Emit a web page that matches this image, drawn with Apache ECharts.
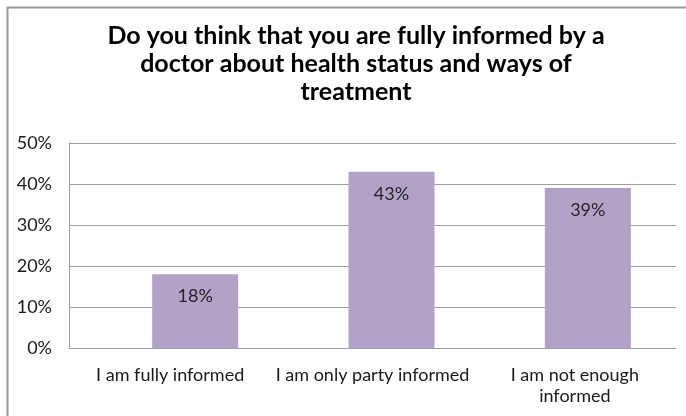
<!DOCTYPE html>
<html>
<head>
<meta charset="utf-8">
<script src="https://cdn.jsdelivr.net/npm/echarts@6/dist/echarts.min.js"></script>
<style>
html,body{margin:0;padding:0;background:#fff;}
#chart{width:686px;height:416px;}
</style>
</head>
<body>
<div id="chart"></div>
<script>
var titleLines = ['Do you think that you are fully informed by a', 'doctor about health status and ways of', 'treatment'];
var categories = ['I am fully informed', 'I am only party informed', 'I am not enough\ninformed'];
var values = [18, 43, 39];
var yTicks = [0, 10, 20, 30, 40, 50];

var FONT = 'Lato';
var chart = echarts.init(document.getElementById('chart'), null, {renderer: 'canvas'});
var option = {
  animation: false,
  backgroundColor: '#ffffff',
  graphic: [{
    type: 'rect', left: 5, top: 5, silent: true,
    shape: {x: 0, y: 0, width: 740, height: 440},
    style: {fill: 'none', stroke: '#9a9a9a', lineWidth: 2}
  }],
  title: {
    text: titleLines.join('\n'),
    left: 351, top: 17, textAlign: 'center',
    textStyle: {fontFamily: FONT, fontWeight: 'bold', fontSize: 25, lineHeight: 28, color: '#000'}
  },
  grid: [
    {left: 69, right: 10, top: 143, bottom: 68, containLabel: false},
    {left: 97, right: -15, top: 143, bottom: 68, containLabel: false}
  ],
  xAxis: [
    {
      type: 'category', gridIndex: 0, data: categories,
      axisLine: {show: true, lineStyle: {color: '#a0a0a0', width: 1}},
      axisTick: {show: false},
      axisLabel: {fontFamily: FONT, fontSize: 18, color: '#1a1a1a', margin: 17, lineHeight: 21, interval: 0}
    },
    {
      type: 'category', gridIndex: 1, data: categories,
      show: false
    }
  ],
  yAxis: [
    {
      type: 'value', gridIndex: 0, min: yTicks[0], max: yTicks[yTicks.length - 1], interval: 10,
      axisLine: {show: true, lineStyle: {color: '#a0a0a0', width: 1}},
      axisTick: {show: false},
      splitLine: {show: true, lineStyle: {color: '#a0a0a0', width: 1}},
      axisLabel: {fontFamily: FONT, fontSize: 18, color: '#1a1a1a', margin: 17, formatter: '{value}%'}
    },
    {
      type: 'value', gridIndex: 1, min: yTicks[0], max: yTicks[yTicks.length - 1], interval: 10,
      show: false, splitLine: {show: false}
    }
  ],
  series: [{
    type: 'bar', xAxisIndex: 1, yAxisIndex: 1,
    data: values, barWidth: 86,
    itemStyle: {color: '#b3a2c7'},
    label: {
      show: true, position: 'insideTop', distance: 13,
      formatter: '{c}%', fontFamily: FONT, fontSize: 18, color: '#262626'
    }
  }]
};
chart.setOption(option);
</script>
</body>
</html>
